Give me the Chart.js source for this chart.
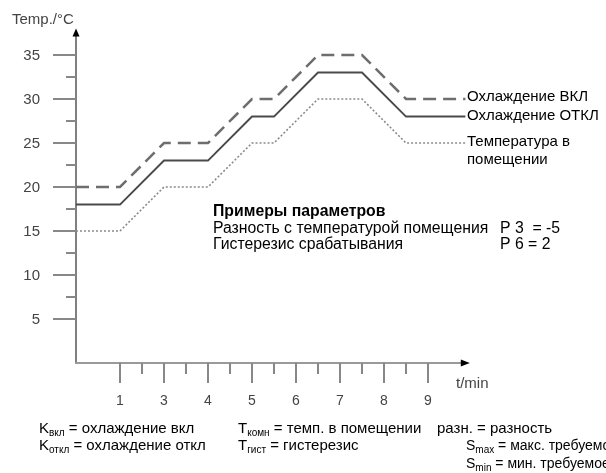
<!DOCTYPE html>
<html>
<head>
<meta charset="utf-8">
<script src="https://cdn.jsdelivr.net/npm/chart.js@4/dist/chart.umd.min.js"></script>
<style>
html,body{margin:0;padding:0;background:#fff;}
canvas{display:block;}
</style>
</head>
<body>
<canvas id="c" width="606" height="473"></canvas>
<script>
// ---- data ----
const timeMin    = [0, 1, 2, 3, 4, 4.5, 5.5, 6.5, 7.5, 8.85];
const coolingOn  = [20, 20, 25, 25, 30, 30, 35, 35, 30, 30];
const coolingOff = [18, 18, 23, 23, 28, 28, 33, 33, 28, 28];
const roomTemp   = [15, 15, 20, 20, 25, 25, 30, 30, 25, 25];
const xTickValues = [1, 2, 3, 4, 5, 6, 7, 8];
const xTickLabels = ['1', '3', '4', '5', '6', '7', '8', '9'];
const xMinorTicks = [1.5, 2.5, 3.5, 4.5, 5.5, 6.5, 7.5];
const yTickValues = [5, 10, 15, 20, 25, 30, 35];
const yMinorTicks = [7.5, 12.5, 17.5, 22.5, 27.5, 32.5];
const seriesNames = ['Охлаждение ВКЛ', 'Охлаждение ОТКЛ', 'Температура в помещении'];
const yAxisTitle = 'Temp./°C';
const xAxisTitle = 't/min';
const paramTitle = 'Примеры параметров';
const paramNames = ['Разность с температурой помещения', 'Гистерезис срабатывания'];
const paramValues = ['P 3  = -5', 'P 6 = 2'];

const pts = (arr) => timeMin.map((t, i) => ({x: t, y: arr[i]}));
const FONT = '"Liberation Sans", Arial, sans-serif';

function subText(ctx, x, y, main, sub, rest, size) {
  ctx.font = size + 'px ' + FONT;
  ctx.fillText(main, x, y);
  let w = ctx.measureText(main).width;
  ctx.font = Math.round(size * 0.68) + 'px ' + FONT;
  ctx.fillText(sub, x + w, y + 3);
  w += ctx.measureText(sub).width;
  ctx.font = size + 'px ' + FONT;
  ctx.fillText(rest, x + w, y);
}

const decor = {
  id: 'decor',
  beforeDatasetsDraw(chart) {
    const ctx = chart.ctx, xs = chart.scales.x, ys = chart.scales.y;
    const x0 = xs.getPixelForValue(0), y0 = ys.getPixelForValue(0);
    ctx.save();
    ctx.strokeStyle = '#808080';
    ctx.fillStyle = '#000';
    ctx.lineWidth = 2;
    // y axis
    const yTip = ys.getPixelForValue(38);
    ctx.beginPath(); ctx.moveTo(x0, y0 + 1); ctx.lineTo(x0, yTip + 6); ctx.stroke();
    ctx.beginPath(); ctx.moveTo(x0, yTip); ctx.lineTo(x0 - 3.5, yTip + 8); ctx.lineTo(x0 + 3.5, yTip + 8); ctx.closePath(); ctx.fill();
    // x axis
    const xTip = xs.getPixelForValue(8.95);
    ctx.strokeStyle = '#9a9a9a';
    ctx.beginPath(); ctx.moveTo(x0 - 1, y0); ctx.lineTo(xTip - 6, y0); ctx.stroke();
    ctx.beginPath(); ctx.moveTo(xTip, y0); ctx.lineTo(xTip - 9, y0 - 3.5); ctx.lineTo(xTip - 9, y0 + 3.5); ctx.closePath(); ctx.fill();
    // ticks
    ctx.strokeStyle = '#888';
    ctx.lineWidth = 2;
    yTickValues.forEach(v => { const y = Math.round(ys.getPixelForValue(v)); ctx.beginPath(); ctx.moveTo(x0 - 23, y); ctx.lineTo(x0, y); ctx.stroke(); });
    yMinorTicks.forEach(v => { const y = Math.round(ys.getPixelForValue(v)); ctx.beginPath(); ctx.moveTo(x0 - 10, y); ctx.lineTo(x0, y); ctx.stroke(); });
    xTickValues.forEach(v => { const x = Math.round(xs.getPixelForValue(v)); ctx.beginPath(); ctx.moveTo(x, y0); ctx.lineTo(x, y0 + 20); ctx.stroke(); });
    xMinorTicks.forEach(v => { const x = Math.round(xs.getPixelForValue(v)); ctx.beginPath(); ctx.moveTo(x, y0); ctx.lineTo(x, y0 + 11); ctx.stroke(); });
    // tick labels
    ctx.fillStyle = '#444';
    ctx.font = '15px ' + FONT;
    ctx.textAlign = 'right'; ctx.textBaseline = 'middle';
    yTickValues.forEach(v => ctx.fillText(String(v), 40, ys.getPixelForValue(v) + 1));
    ctx.textAlign = 'center'; ctx.textBaseline = 'alphabetic';
    ctx.font = '14px ' + FONT;
    xTickValues.forEach((v, i) => ctx.fillText(xTickLabels[i], xs.getPixelForValue(v), 405));
    // axis titles
    ctx.font = '15px ' + FONT;
    ctx.textAlign = 'left';
    ctx.fillText(yAxisTitle, 12, 24);
    ctx.fillText(xAxisTitle, 456, 388);
    ctx.restore();
  },
  afterDatasetsDraw(chart) {
    const ctx = chart.ctx, ys = chart.scales.y;
    const n = timeMin.length - 1;
    ctx.save();
    ctx.fillStyle = '#000';
    ctx.textAlign = 'left'; ctx.textBaseline = 'alphabetic';
    ctx.font = '15px ' + FONT;
    const lx = 467;
    ctx.fillText(seriesNames[0], lx, ys.getPixelForValue(coolingOn[n]) + 2);
    ctx.fillText(seriesNames[1], lx, ys.getPixelForValue(coolingOff[n]) + 3);
    const yr = ys.getPixelForValue(roomTemp[n]) + 3;
    ctx.fillText('Температура в', lx, yr);
    ctx.fillText('помещении', lx, yr + 18);
    // parameter block
    ctx.font = 'bold 15.8px ' + FONT;
    ctx.fillText(paramTitle, 213, 216);
    ctx.font = '15.8px ' + FONT;
    ctx.fillText(paramNames[0], 213, 233);
    ctx.fillText(paramNames[1], 213, 249);
    ctx.fillText(paramValues[0], 500, 233);
    ctx.fillText(paramValues[1], 500, 249);
    // bottom legend text
    subText(ctx, 39, 433, 'K', 'вкл', ' = охлаждение вкл', 15);
    subText(ctx, 39, 450, 'K', 'откл', ' = охлаждение откл', 15);
    subText(ctx, 238, 433, 'T', 'комн', ' = темп. в помещении', 15);
    subText(ctx, 238, 450, 'T', 'гист', ' = гистерезис', 15);
    ctx.font = '15px ' + FONT;
    ctx.fillText('разн. = разность', 437, 433);
    subText(ctx, 466, 450, 'S', 'max', ' = макс. требуемое значение', 14);
    subText(ctx, 466, 468, 'S', 'min', ' = мин. требуемое значение', 14);
    ctx.restore();
  }
};

new Chart(document.getElementById('c'), {
  type: 'line',
  data: {
    datasets: [
      {label: seriesNames[0], data: pts(coolingOn), borderColor: '#6e6e6e', borderWidth: 2.5, borderDash: [13, 7], pointRadius: 0, tension: 0, borderCapStyle: 'butt'},
      {label: seriesNames[1], data: pts(coolingOff), borderColor: '#4a4a4a', borderWidth: 2, pointRadius: 0, tension: 0},
      {label: seriesNames[2], data: pts(roomTemp), borderColor: '#8a8a8a', borderWidth: 1.6, borderDash: [2, 2], pointRadius: 0, tension: 0}
    ]
  },
  options: {
    responsive: false,
    animation: false,
    devicePixelRatio: 1,
    layout: {padding: {left: 76, right: 134, top: 28.6, bottom: 110}},
    plugins: {legend: {display: false}, tooltip: {enabled: false}},
    scales: {
      x: {type: 'linear', min: 0, max: 9, display: false},
      y: {type: 'linear', min: 0, max: 38, display: false}
    }
  },
  plugins: [decor]
});
</script>
</body>
</html>
